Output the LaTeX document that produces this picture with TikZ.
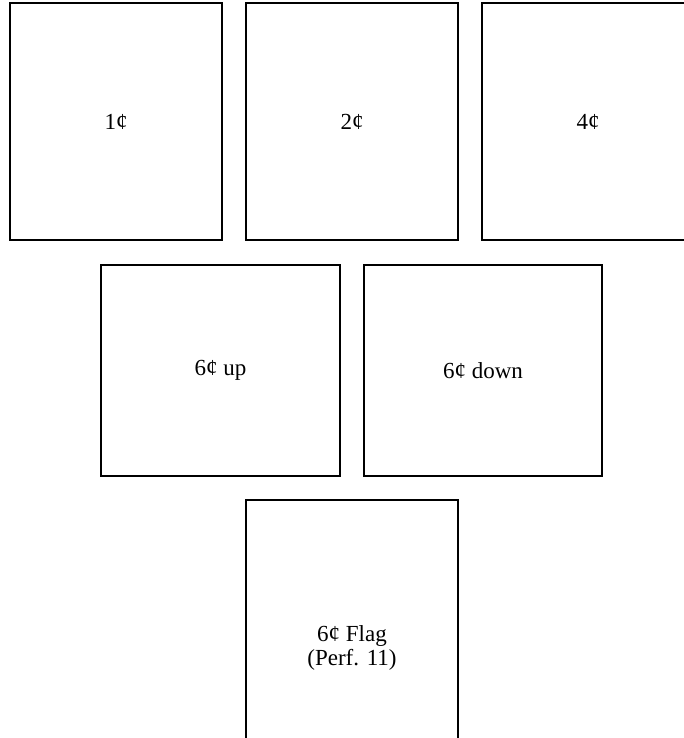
\documentclass[tikz,border=0pt]{standalone}
\usepackage{fontspec}
\setmainfont{Liberation Serif}
\begin{document}
\begin{tikzpicture}[x=1pt,y=-1pt,
  box/.style={draw=black, line width=2pt, fill=white, align=center, inner sep=0pt,
    font=\fontsize{23}{24}\selectfont}]
\useasboundingbox (0,0) rectangle (683,738);
\node[box, minimum width=212, minimum height=237] (b1) at (116,121.5) {1¢};
\node[box, minimum width=212, minimum height=237] (b2) at (352,121.5) {2¢};
\node[box, minimum width=212, minimum height=237] (b3) at (588,121.5) {4¢};
\node[box, minimum width=239, minimum height=211] (b4) at (220.5,370.5) {6¢ up};
\node[box, minimum width=238, minimum height=211] (b5) at (483,370.5) {6¢ down};
\node[box, minimum width=212, minimum height=296] (b6) at (352,648) {6¢ Flag\\(Perf. 11)};
\end{tikzpicture}
\end{document}
